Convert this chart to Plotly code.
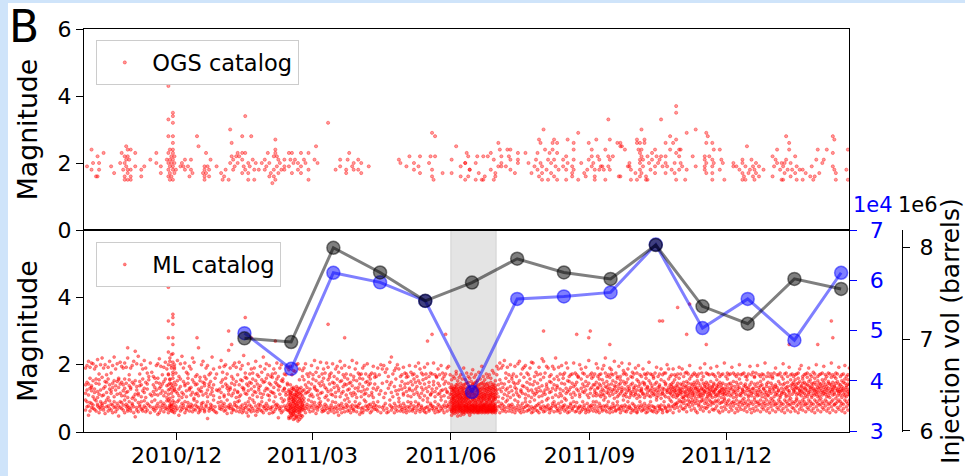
import datetime as dt
import plotly.graph_objects as go

# ---------------------------------------------------------------- data
DAY0 = dt.datetime(2010, 10, 1, 12)          # day 0 of the event lists

# ML catalogue: one token per day, each character one event with
# magnitude = 0.2 + 0.025 * (ASCII code - 33)
#   ')'..'/' 0.40-0.55   '0'..'9' 0.575-0.80   ':'..'@' 0.825-0.975
#   'A'..'Z' 1.00-1.625  '['..'`' 1.65-1.775   'a'..'y' 1.80-2.40   '}' 2.50
# Each line starts with the day number (from 2010-10-01) of its first token.
ML_DAILY = """
0 3GQe? 7KhT= -Em8R Y<Mf2 J6Pk;N
5 5Vj9C @Ld4H 2S>Xg 8BoI: 0R^6FW
10 4K=i7 9Dq;Z 6Me3E <Ui/O 7H]?T
15 2Xf8B >Lm5Q 3J_:G 9Sh0N 6Cr=V
20 1Pd7K ;Uj4F 8NW,Y =Gl6R 5Tg<D
25 3Qe9J ?Dk0XM 7Sf:H }4Iq8B2 6W]=P
30 2Ne5L 9Ah;T 0Rm7C +Fy?V 3Kj6O
35 <Gs1E 7P^9U 4Ci=Q 5Xd2J 8Hn>M
40 1Te6B ;L_3R 9W[ 0Fk7 =D`
45 6Q[4I 2NY?F 8Kh5T ;Ej.Y 7Mp0S
50 3Gg=O 9R]6J 1Uf;D 5Hl8X >Bd4P
55 0Fi]xK?Q6^ 7LX3Sm=Aq9W 2Nh:Ge5Ru8 9Cl4Y]vJ>P`1 6Td<Kf0Mi
60 3I_8Q =Gn5V -D[?L 7Xj2O 4Bs;H
65 9Ue6F 0Pk=R 5J`3C <S^8Y 2Kg7M
70 6Nd:E 8Hq1W ?Tl4A 3F[9Q 7R]=G
75 0L}6D 4VZ2J ;Ii8N 5Em<T 1P[3S
80 9Ge7X =Kh)C 2O]5R 6U_:F 8Mr4I
85 3Dd?Q 7Y1 0K^ <J 5Bf8L
90 4Hn=T 9W`6O 2Cg;E 7Ri3Y /P^?M
95 6Jz8F 5Ne:L 0S[7D 3Gh4X <Kk9Q
100 8Bf2U =I]6H 1Ql>C 7Ed4W 9Vh0N
105 2Mt5K 6G_;Z 0RY8F 4Jj=P, 3T^9A
110 7Ld1S 5X_?E <Oe2I 8Hm-V 1C]4R
115 6K[:N 9Pg3G 2W`=B 0Fr7T 5Ud8J
120 3Mj;Y 8E]5L ?Sh/D 4I[6Q 7Z^0H
125 1Nd=G 9T_4C 6Rk:X *P[8K 5Fe3O
130 0Vi7A =JX2U 8L^?M 4H]6E 3Qf9S
135 +3A7<E2?IcK) 0*6BF:5/Q9Hg ,4=DJ-8@M1G] (b2;5C.?AL7=N0 )1@Fa6<-K3E9
140 *5:HO8,>B2JDi &7;Ij0+=CM4F 3.9?L(A6Gd1W -2<EN7*=AH5 ,9:Jb4?D6[
145 3KW8=Ae 0Gj5Q 7N^:H 4I[?T 8D_1L
150 =Rh6F 2X]9C 5Mn<O /K`8V 6Ee3J
155 ;S[7A 9Gl=P 1U^4H 7Qd2Y 3B_:N
160 8Lk5D ?If0W 4Z]6R 2F_9K 6Tj=E
165 0N[4S <Hd7C 5Pg1X 9J`-M 4Cm8U
170 ;Ve0G 7O]5I 1Rh?Z 6E^:Q 8KX2A
175 3Sf=L 0G]7T 5Pn9D 2W[4H =Md8F
180 7Bk1V 9J_6N .Y];R 1I^5C 6Oe0X
185 ?Fh3K 8T^=G 3Lj7U 5D[9Q 0X]:S
190 7H_2E <Mg6B 9R^4Z 4K[8 2Ne=
195 7F] 0Ji 6Sd 8Bh3 ;G`
200 5Ud0 1M[ 9Ql? 3Tr7H 6C^
205 0Ob; 4Xe8J 2Fi 7Kd=A 9P[2
210 4L]6U 1Gf;E 8R_5N 3Z^0I =D[7S
215 6Mh2K 9U`<C 2J]4Q 5F^8X 0Tg=L
220 7O[3H ;Ek9V 4Sd1B 8G_6N 3K]?W
225 1Rf5D 6Y^0M =Ij7A 2O[4T 9E_;F
230 5H^8L 7Uk3Q 0C]=I 4M[6Z 1Fd:S
235 8P]2G ?Jh5C 3X_7K 9D[0R 6L^=U
240 2Ie8H 7Sg:B 4N]=F 4A9?H2Q<K7E-1NW 8C;3JF6@M0B=5L[
245 /6D:I9G?O2A<4KY 3E8=M1H>Q5C7N^a ,7B;K4F@R0D9<IV 2G5?J8A:O3E6=LZ 9C1>N4H7S-B;6F]
250 5D0<K3I8@P2A=MX .8F;M6B4?Q1G9Je 3A7=H0E5>R8C2NW 6I2:L9D4@S7B<F_ 1G8?O5A3;T0H6K[
255 4B9=J2F7<P-D5MY 7E3>N0I8:U4C1H^ 2K6@Q9A5=R3G8Lc 5D1;M7H4?S0B9FZ 8J3<O2E6>T5A7N]
260 0F7=K4C9:P1I3MV 6B2?L8G5@Q3D0J` 3H9;N1A7<R6E4KX 7C4>M0F8=S2B5Ig 1L6:P9D3?T4G8A[
265 5E0@K7H2;Q9C6NW 9A3<J5F1>R7D2M^ 2I8=O4B6:S0G5LZ 6D1?N9E3@P4A8K] 4H7;M2C5<T1F9JY
270 8B3>L6G0=Q5D2Ob 1E9:K4A7?R3H6N_ 5C2@J8F4;P0B7MV 3Gg]K 7Qd=C
275 0Lk8W 5Ie;S 9Ah2N 4Rn7F =K_1Y
280 6Df?M 2U]9H 8Oi5B 1X[:J 7E^4T
285 ?Ng0R 3H[6L 9Sj=E 5Cm2V 0K^8I
290 ;Pd4G 6Zf1O =Fh7A 2T_9M 8J]3D
295 4Re=X 7Bl0K 1Hk5Q 6E[?U 3L`8G
300 9I]2S 0Nf;C 5W^7J =Dp4P 8Hm1Z
305 2K_6F 7Rg?O 4Ae9L 0U[5H 6I]3T
310 ;Mg8B 1Xd=Q 9Eq7K 5P[2N 3Cf;W
315 7L^0G =Sh4D 8J]6Y 2R_9A 4Gk?M
320 0Ve7I 6K[1U 9N];F 3B^5S 7Hk=O
325 1Q_8E <T]2L 5Z[6J 8Fi0C 2Md7X
330 =I_4R 6O^9H 0Uf3K 4E[;P 7Sn1B
335 3L]8G 9Y_6N =D[2Q 5K^9HQ 1Gj=TD
340 7N[3Me 0R];EX 6I^8PC 2Wd4LF 8Eh?SJ
345 3O_7Bq 9U[1HN =K]6QG 4Ze0DM 7I^5Rc
350 1F];VK 6Pm8AL 3T_2OH 9C[=JY 5Mg4EQ
355 0S[7GW 8Kk3NI ?D^6Ub 2L_9FR 7H]1TC
360 4Xd=KO 6Bj8MJ 0Q[5GE 3I`;SZ 9N^2DL
365 5Fe7PH 1W_0AK 8Uh4OE 6C]=RJ 2K[9MI
370 7Gd3TF 4S^;BQ 0E]8LY 5O_1HN 9Dl6VK
375 3J^=CS 8P]2GM 1Y[7IE 6L_4RF ?Bf0TJ
380 2N[8HD 7Q^5OK 4Fd9WA 0I]3MG 8U_=EL
385 5C_6SQ 1Ki2JH 9Xd7NB 3G[?LQH 7K]=EOR
390 0Nd8ICT 5J]:FMW 9H[;BPK <E^6OSD 2Lf?JGY
395 8F^=MRI =Bd5KQH 4T[;NCA 6I_>HPE 1U`9LDO
400 ?G^:SKC 7Nh=JFX 3R[<MBI 9K]?EQG 5D_=OHT
405 ;M]2LRA 0F[>IVN 8S^:JCK 4He=PDF >W_7MLB
410 2E[?KSG 6Oj;IQJ =T_5NAH 7C^:RLE 1I]?GPM
415 9Ke=UDF <N^4JOB 3H];SQI 5F[>LKC 8Pg=EMW
420 ?D_2ORH 0J[;GTI 6B]<NQK 2L^=HSF 7Ek?IMA
425 4G[;QK 9N_=EX 1J]?RH 6S^:DM 3Pf<LF
430 8U_=IB 0H];OK 5F[?TC 2M^:QJ 7Xi=EN
435 <D]4SG 9K^?LH 3I_;PA 6O[=RF 1W[:JM
440 8E^?NC 4Qg;KI 0T]=GD 5H`:ML 2Z[?BR
445 7J_<OF 3Dh=SH 9N];EK 1P[?IU 6G^:QC
450 4L]=MX 8Bk;JF 2R[?HO 5E_:TD 0K[=NI
455 7S^;GA 3Y[?LP 9I_=CM 1Fe:OQ 6N];EH
460 4U]?JK 8D_=RB 2H[;MF 5Qj:IX 0L^?GS
465 7C_=NE 3O[;KT 9Jf?DH 1W]:PA 6R^=FM
470 5I[;QTK 2O]=LHW 8E^?RNA 0S_:MGY 4Jd=KUF
475 7Ph;ODI 3X[?HSL 9G]=TBN 1M^:RKE 6Z_;JQC
480 4Fe?PUH 8L]=NIW 2D[;SOB 5R`:GMK 0T^?EJY
485 7Ii=QLF 3C[;VNH 9O]?KSD 1H^:MRA 6W_=JPE
490 4Gg;TIN 8Q]?FLX 2K[=OHC 5U_:DSM 0J^;RGB
495 7Nk=IQZ 3E]?LTK 9P[:HOF 1Y_;MSA 6D^=KJU
500 4Rf?GNI 8I[=QLE 2V];JOB 5M^:TFK 0Hh?SDX
505 7K[=PNC 3F];RIW 9Le?EQH
"""

# ML events above the range of the daily code
ML_LARGE_DAY = [55, 55, 55, 58, 58, 58, 58, 58, 74, 95, 97, 106, 110, 126, 161,
                172, 227, 230, 239, 304, 326, 334, 335, 348, 381, 383, 393, 399,
                401, 412, 467, 486, 495, 496]
ML_LARGE_MAG = [4.3, 3.3, 2.8, 3.5, 3.4, 3.2, 2.8, 2.6, 2.8, 3.0, 2.6, 3.4, 2.8, 2.7, 3.2,
                2.8, 2.7, 2.9, 2.9, 3.0, 2.9, 2.8, 3.0, 2.6, 3.3, 3.3, 3.7, 2.9,
                3.8, 2.6, 2.6, 2.6, 3.3, 2.8]

# OGS catalogue: "day:magnitudes", day counted from 2010-10-01
OGS_EVENTS = """
1:1.9 4:2.4,1.8 5:2.0 7:1.6 8:1.6,2.2 9:2.0,1.8 12:2.3 17:1.9 19:1.7 23:2.0
24:2.3 25:1.8 26:1.5,2.2,2.0,1.6 27:2.5,2.1,1.9 28:1.5,2.4,2.2,1.8,1.7 29:2.1
30:1.5,2.4,1.8,1.6 33:2.3,1.9 37:1.6,1.8 39:1.9 43:2.1 47:2.3,2.0 50:1.7,1.9
54:2.1 55:4.3,3.3,2.8,2.3,2.0,1.8,1.6 56:2.4,2.1,1.9,1.7,1.5 57:2.2,2.0,1.6
58:3.5,3.4,3.2,2.8,2.6,2.4,2.3,2.1,1.9,1.8,1.5 59:2.2,2.0,1.7 60:1.8 63:1.9
64:2.0 65:1.9 66:2.1,1.8 68:1.9 69:1.6 70:2.1,1.8 71:1.7 74:2.8 75:2.5 78:1.7
79:1.9,1.6,1.8,1.5 80:2.3,1.7 81:1.9 82:1.8,1.6 83:2.1 87:1.9 90:1.7 91:1.5
92:1.6 93:1.8 95:1.5 96:3.0,2.0 97:2.2,2.6 98:2.1,1.8 99:1.9 100:2.2 101:2.3,2.0
102:2.2 104:2.8,2.3,2.1,1.7 105:1.9 106:3.4,2.3,1.8 108:2.0,1.7,1.5 109:1.9
110:2.8 111:2.1 112:1.8,1.5 113:2.0 115:1.8 117:2.0 119:2.1,1.8 120:1.9 121:2.3
122:2.0,1.6 123:1.7 124:1.4 125:2.2,1.8,1.6 126:2.3,1.5,2.4,2.7 127:2.2,1.9
128:2.1,1.7 129:2.0 130:1.8 132:1.9,2.1,1.8 135:2.3,1.9 136:2.1 137:2.3,1.7
138:2.0 139:2.1 141:2.0,1.8 143:2.3,1.9,1.7 145:2.1 146:2.0 148:2.3,1.8,1.5
152:2.1 153:2.5 154:2.0 161:3.2 166:1.8 169:2.1,1.9 173:1.8,1.7 174:2.1 175:2.3
177:1.9 178:2.0,1.8 181:2.1,1.8 183:2.0,1.7 188:1.9 208:2.1 209:2.0 213:1.9
215:2.2 218:2.0,1.8 221:1.9 222:2.2,1.7 228:2.0 229:2.2 230:2.9,1.8,1.6 231:1.5
232:2.2,2.8 237:1.7 243:2.1,1.7 246:2.5 249:1.9,1.6 252:2.0,1.5,2.0 253:2.3
254:2.2,1.6 255:1.8,1.8 259:1.5,2.0 260:2.2 261:1.7 263:1.5 264:1.5,2.2 265:1.6
267:2.2 269:2.3,1.8 271:2.1,1.5 272:1.6,1.7 274:2.6,1.9 275:2.4 276:2.2,1.9,2.0
279:1.9 280:2.4 281:2.2 282:2.4,2.1,1.8 285:1.7 287:2.3,2.1,2.0 292:2.3 294:2.0
296:1.7 298:1.9 299:2.1 300:2.3,1.8 301:2.7,1.6 302:2.6,2.0 303:1.7,1.9,1.5
304:3.0 305:2.4 306:1.8 307:2.1,1.5 308:2.3 309:2.0,1.7 310:2.4,2.6
311:2.7,2.1,1.6 312:1.9 313:2.3,2.6,1.5 314:1.8 317:2.1,1.9 319:2.2,1.8,1.5
320:2.7,2.0 323:1.9,1.7,1.6 324:2.6,2.4,2.1,1.8 327:1.5,2.9 329:2.0 331:1.7
332:1.6 333:1.8 334:2.6,2.1 336:2.4,2.2,1.9 337:2.0 338:1.8,1.6,1.5 339:2.7
340:2.2 341:2.1,1.8 342:1.9 343:1.9 344:1.8 345:2.4,1.5 347:2.2,1.9,3.3
348:2.1,1.8,2.7 350:2.2 353:2.6 354:1.6 355:2.6,2.5,1.6 356:2.5 358:2.4 360:1.9
361:2.0,1.9 362:1.8,1.5 365:1.7 366:2.7,2.6,1.5 367:2.4 368:2.6,2.3,2.1,2.0,1.8,1.6
369:2.2,1.7,3.0,2.4 370:2.1,1.9 371:2.7,2.6 372:1.6,1.5 373:2.2,1.5 374:2.0
375:1.8 376:2.3,2.1 378:2.4,1.9,1.7 379:2.2 380:2.0 381:2.1 382:2.2,3.3 383:1.9
385:2.6,2.2,2.0,1.7 386:1.9 388:2.8,2.4 389:1.8 390:2.6 391:2.0,1.7
392:2.7,2.3,1.5,3.7,3.5 394:2.4,2.2,1.8 395:2.4,2.0 396:1.9 398:1.5 399:1.8,2.9
403:2.2 405:3.0,1.9 411:2.2,1.8,2.1,1.9 412:2.9,2.6,2.0,1.7 413:2.8 414:2.2
416:1.9,2.6,2.1,1.7,1.5 417:2.4,2.0 421:2.4,1.8 422:2.1 423:2.0 424:1.5
430:2.0,1.9 432:1.9 434:1.8 436:2.1,2.0,1.7,1.5 437:1.6 438:1.9,1.5 439:2.5
440:1.7 441:1.8 442:2.1 443:1.9,1.6 444:1.8,1.5 445:2.0,1.7 447:1.9,1.6 450:1.8
456:2.2,1.6 457:1.9 458:2.1 459:2.4,2.0 461:1.8 462:2.0,1.5 463:1.9,1.5
464:2.0,1.7 465:2.1,2.8 466:1.8 467:2.6,2.4 468:2.0,1.6 469:1.8 471:2.2,1.7
472:1.9,1.5 474:1.8 476:1.8,1.5 478:1.7 481:1.6 482:1.9 483:1.5 484:1.6 485:2.1
486:2.4 487:1.7 489:2.0 490:2.1 492:2.4 496:2.8,2.3,1.9 497:2.7,1.8 498:1.7,1.5
505:1.8 506:2.4,1.5
"""

# monthly injection (mid-month values)
INJ_DATES = ["2011-01-15", "2011-02-15", "2011-03-15", "2011-04-15", "2011-05-15",
             "2011-06-15", "2011-07-15", "2011-08-15", "2011-09-15", "2011-10-15",
             "2011-11-15", "2011-12-15", "2012-01-15", "2012-02-15"]
INJ_VOL = [7010000, 6970000, 8000000, 7730000, 7420000, 7620000, 7880000,
           7730000, 7660000, 8030000, 7360000, 7170000, 7660000, 7550000]
BLUE_VOL = [49500, 42400, 61500, 59600, 55900, 37800, 56300,
            56800, 57600, 67100, 50500, 56300, 48100, 61500]

X_TICKS = ["2010-12-01", "2011-03-01", "2011-06-01", "2011-09-01", "2011-12-01"]
X_TICK_TEXT = ["2010/12", "2011/03", "2011/06", "2011/09", "2011/12"]
BLUE_TICKS = [30000, 40000, 50000, 60000, 70000]
BLUE_TICK_TEXT = ["3", "4", "5", "6", "7"]
VOL_TICKS = [6000000, 7000000, 8000000]
VOL_TICK_TEXT = ["6", "7", "8"]


# ---------------------------------------------------------------- decoding
def decode_daily(block):
    xs, ms = [], []
    for line in block.strip().splitlines():
        start, *tokens = line.split()
        for i, tok in enumerate(tokens):
            day = DAY0 + dt.timedelta(days=int(start) + i)
            for ch in tok:
                xs.append(day)
                ms.append(round(0.2 + 0.025 * (ord(ch) - 33), 3))
    return xs, ms


def decode_events(block):
    xs, ms = [], []
    for tok in block.split():
        day, mags = tok.split(":")
        for m in mags.split(","):
            xs.append(DAY0 + dt.timedelta(days=int(day)))
            ms.append(float(m))
    return xs, ms


ml_x, ml_m = decode_daily(ML_DAILY)
ml_x += [DAY0 + dt.timedelta(days=d) for d in ML_LARGE_DAY]
ml_m += ML_LARGE_MAG
ogs_x, ogs_m = decode_events(OGS_EVENTS)

# ---------------------------------------------------------------- layout helpers
FONT = "DejaVu Sans"
L, PW = 84, 817.7          # left edge of plotting area, width up to the outer axis
B, PH = 432, 403           # bottom edge of plotting area, height


def px(x):
    return (x - L) / PW


def py(y):
    return (B - y) / PH


XDOM = [0, 765 / PW]
SPLIT = py(230)

axis_common = dict(showline=True, linecolor="black", linewidth=1.3, ticks="outside",
                   ticklen=7, tickwidth=1.3, tickcolor="black", showgrid=False,
                   zeroline=False, automargin=False,
                   tickfont=dict(family=FONT, size=22, color="black"))

fig = go.Figure()

fig.add_trace(go.Scatter(
    x=ogs_x, y=ogs_m, mode="markers", name="OGS catalog", xaxis="x2", yaxis="y",
    legend="legend",
    marker=dict(size=3.2, color="rgba(255,0,0,0.4)",
                line=dict(width=0.6, color="rgba(255,0,0,0.6)"))))

fig.add_trace(go.Scatter(
    x=ml_x, y=ml_m, mode="markers", name="ML catalog", xaxis="x", yaxis="y2",
    legend="legend2",
    marker=dict(size=3.0, color="rgba(255,0,0,0.5)",
                line=dict(width=0.5, color="rgba(255,0,0,0.6)"))))

fig.add_trace(go.Scatter(
    x=INJ_DATES, y=BLUE_VOL, mode="lines+markers", xaxis="x", yaxis="y3",
    showlegend=False,
    line=dict(color="rgba(0,0,255,0.5)", width=3),
    marker=dict(size=13, color="rgba(0,0,255,0.5)",
                line=dict(width=1.5, color="rgba(0,0,255,0.5)"))))

fig.add_trace(go.Scatter(
    x=INJ_DATES, y=INJ_VOL, mode="lines+markers", xaxis="x", yaxis="y4",
    showlegend=False,
    line=dict(color="rgba(0,0,0,0.5)", width=3),
    marker=dict(size=13, color="rgba(0,0,0,0.5)",
                line=dict(width=1.5, color="rgba(0,0,0,0.5)"))))

fig.update_layout(
    width=965, height=476,
    margin=dict(l=L, r=965 - L - PW, t=B - PH, b=476 - B, pad=0, autoexpand=False),
    paper_bgcolor="white", plot_bgcolor="white",
    font=dict(family=FONT, size=22, color="black"),
    xaxis=dict(axis_common, domain=XDOM, anchor="y2", type="date",
               range=["2010-09-30 12:00", "2012-02-20 10:00"],
               tickvals=X_TICKS, ticktext=X_TICK_TEXT, mirror=True,
               ticklabelstandoff=-4),
    xaxis2=dict(axis_common, domain=XDOM, anchor="y", matches="x", type="date",
                showticklabels=False, ticks="", mirror=True),
    yaxis=dict(axis_common, domain=[SPLIT, 1], anchor="x2", range=[0, 6],
               tickvals=[0, 2, 4, 6], mirror=True,
               title=dict(text="Magnitude", standoff=12,
                          font=dict(family=FONT, size=26.7))),
    yaxis2=dict(axis_common, domain=[0, SPLIT], anchor="x", range=[0, 6],
                tickvals=[0, 2, 4], mirror=True,
                title=dict(text="Magnitude", standoff=12,
                           font=dict(family=FONT, size=26.7))),
    yaxis3=dict(axis_common, overlaying="y2", side="right", anchor="x",
                range=[29850, 70000], tickvals=BLUE_TICKS, ticktext=BLUE_TICK_TEXT,
                showline=False, tickcolor="blue", ticklabelstandoff=8,
                tickfont=dict(family=FONT, size=22, color="blue")),
    yaxis4=dict(axis_common, overlaying="y2", side="right", anchor="free",
                position=1.0, range=[5987000, 8194000], tickvals=VOL_TICKS,
                ticktext=VOL_TICK_TEXT, ticklabelstandoff=5,
                title=dict(text="Injection vol (barrels)", standoff=11,
                           font=dict(family=FONT, size=25))),
    legend=dict(x=px(96), y=py(40), xanchor="left", yanchor="top", itemwidth=45,
                bgcolor="rgba(255,255,255,0.8)", bordercolor="#cccccc", borderwidth=1.3,
                font=dict(family=FONT, size=22.5)),
    legend2=dict(x=px(96), y=py(242), xanchor="left", yanchor="top", itemwidth=45,
                 bgcolor="rgba(255,255,255,0.8)", bordercolor="#cccccc", borderwidth=1.3,
                 font=dict(family=FONT, size=22.5)),
)

# shaded month around the June 2011 swarm
fig.add_shape(type="rect", xref="x", yref="y2 domain", x0="2011-06-01", x1="2011-07-01",
              y0=0, y1=1, fillcolor="#e4e4e4", line=dict(color="#d2d2d2", width=1),
              layer="below")

# light page border strips
for x0, x1, y0, y1 in [(0, 8, 476, 0), (0, 965, 3, 0)]:
    fig.add_shape(type="rect", xref="paper", yref="paper", x0=px(x0), x1=px(x1),
                  y0=py(y0), y1=py(y1), fillcolor="#cfe4fa", line=dict(width=0),
                  layer="below")

# panel letter and axis multipliers
fig.add_annotation(text="B", xref="paper", yref="paper", x=px(7), y=py(27),
                   xanchor="left", yanchor="middle", showarrow=False,
                   font=dict(family=FONT, size=44, color="black"))
fig.add_annotation(text="1e4", xref="paper", yref="paper", x=px(872.5), y=py(205),
                   xanchor="center", yanchor="middle", showarrow=False,
                   font=dict(family=FONT, size=21, color="blue"))
fig.add_annotation(text="1e6", xref="paper", yref="paper", x=px(917.5), y=py(205),
                   xanchor="center", yanchor="middle", showarrow=False,
                   font=dict(family=FONT, size=21, color="black"))

fig.write_html("out.html")
